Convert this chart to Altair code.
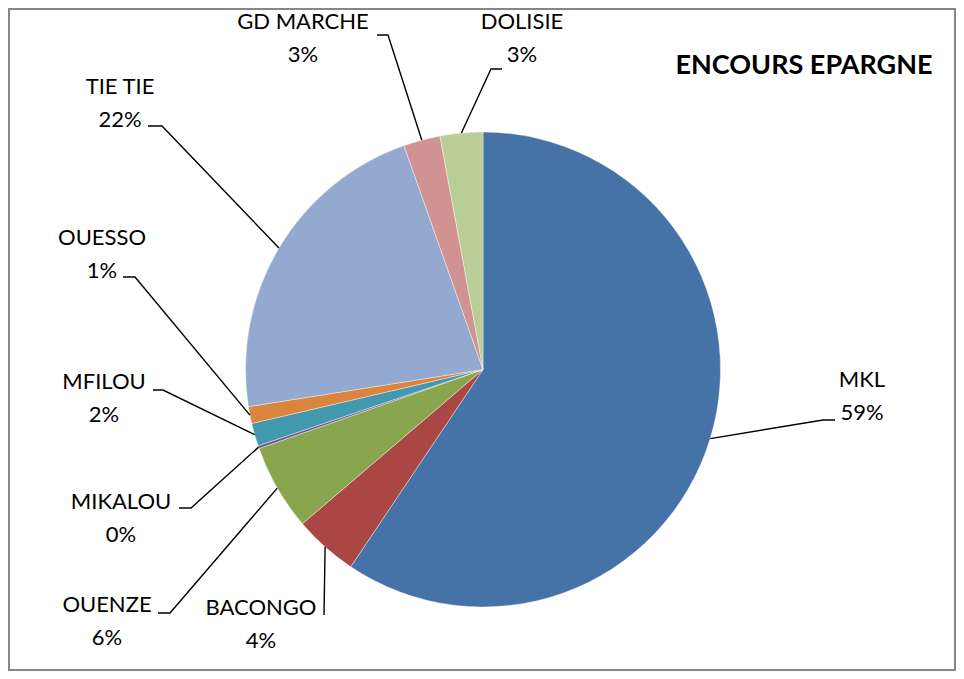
import math
import altair as alt
import pandas as pd

# ---- data ----
names = ["MKL", "BACONGO", "OUENZE", "MIKALOU", "MFILOU", "OUESSO", "TIE TIE", "GD MARCHE", "DOLISIE"]
shares = [59.4, 4.35, 5.85, 0.2, 1.55, 1.15, 22.1, 2.5, 2.9]
pct_text = ["59%", "4%", "6%", "0%", "2%", "1%", "22%", "3%", "3%"]
colors = ["#4572A7", "#AA4643", "#89A54E", "#71588F", "#4198AF", "#DB843D", "#93A9CF", "#D19392", "#B9CD96"]
title_text = "ENCOURS EPARGNE"

# ---- layout (page pixel coordinates) ----
W, H, PAD = 946, 661, 1
X0, Y0 = 8 + PAD, 8 + PAD
CX, CY, R = 483, 369.5, 237.5
# label block centre x, first line centre y
label_x = [862, 261, 107, 121, 104, 102, 120, 303, 522]
label_y = [380, 608, 605, 502, 382, 238, 87, 22, 22]
line_gap = 33
# leader line elbow and end points
elbow_x = [823, 324, 170, 191, 163, 135, 162, 388, 491]
elbow_y = [420, 615, 613, 508, 390, 277, 126, 35, 69]
end_x = [835, 324, 158, 179, 153, 123, 148, 377, 502]
end_y = [420, 615, 613, 508, 390, 277, 126, 35, 69]

xs = alt.Scale(domain=[X0, X0 + W], nice=False, zero=False)
ys = alt.Scale(domain=[Y0, Y0 + H], nice=False, zero=False, reverse=True)

pie_df = pd.DataFrame({"name": names, "share": shares, "idx": list(range(len(names)))})
pie_df["cx"] = CX
pie_df["cy"] = CY

total = sum(shares)
rows = []
cum = 0.0
for i, (n, s) in enumerate(zip(names, shares)):
    mid = (cum + s / 2) / total * 2 * math.pi
    cum += s
    sx = CX + R * math.sin(mid)
    sy = CY - R * math.cos(mid)
    rows.append({"name": n, "seg": 0, "x": sx, "y": sy})
    rows.append({"name": n, "seg": 1, "x": elbow_x[i], "y": elbow_y[i]})
    rows.append({"name": n, "seg": 2, "x": end_x[i], "y": end_y[i]})
lines_df = pd.DataFrame(rows)

text_rows = []
for i, n in enumerate(names):
    text_rows.append({"t": n, "x": label_x[i], "y": label_y[i]})
    text_rows.append({"t": pct_text[i], "x": label_x[i], "y": label_y[i] + line_gap})
text_df = pd.DataFrame(text_rows)

title_df = pd.DataFrame({"t": [title_text], "x": [804], "y": [66]})

pie = alt.Chart(pie_df).mark_arc(radius=R, stroke="white", strokeWidth=0.4).encode(
    x=alt.X("cx:Q", scale=xs, axis=None),
    y=alt.Y("cy:Q", scale=ys, axis=None),
    theta=alt.Theta("share:Q", stack=True),
    order=alt.Order("idx:Q"),
    color=alt.Color("name:N", scale=alt.Scale(domain=names, range=colors), legend=None),
)

leaders = alt.Chart(lines_df).mark_line(color="black", strokeWidth=1.4).encode(
    x=alt.X("x:Q", scale=xs, axis=None),
    y=alt.Y("y:Q", scale=ys, axis=None),
    detail="name:N",
    order="seg:Q",
)

labels = alt.Chart(text_df).mark_text(
    font="Lato", fontSize=22, color="black", align="center", baseline="middle"
).encode(
    x=alt.X("x:Q", scale=xs, axis=None),
    y=alt.Y("y:Q", scale=ys, axis=None),
    text="t:N",
)

title = alt.Chart(title_df).mark_text(
    font="Lato", fontSize=27, fontWeight="bold", color="black", align="center", baseline="middle"
).encode(
    x=alt.X("x:Q", scale=xs, axis=None),
    y=alt.Y("y:Q", scale=ys, axis=None),
    text="t:N",
)

chart = alt.layer(pie, leaders, labels, title).properties(
    width=W, height=H, padding=PAD, autosize=alt.AutoSizeParams(type="none")
).configure_view(stroke="#868686", strokeWidth=2)

chart.save("out.html", embed_options={"renderer": "svg", "actions": False})
